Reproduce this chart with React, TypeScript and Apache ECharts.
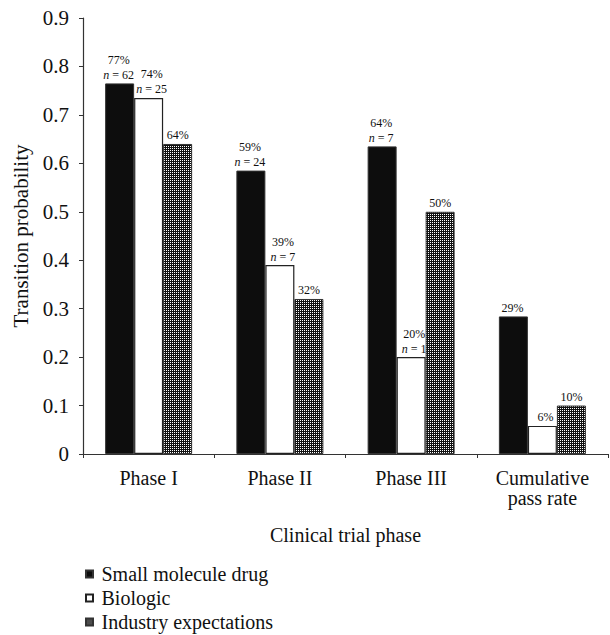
import React, { useEffect, useRef } from "react";
import * as echarts from "echarts";

const categories = ["Phase I", "Phase II", "Phase III", "Cumulative\npass rate"];
const seriesNames = ["Small molecule drug", "Biologic", "Industry expectations"];
const smallMolecule = [0.765, 0.585, 0.635, 0.284];
const biologic = [0.735, 0.39, 0.2, 0.058];
const industry = [0.64, 0.32, 0.5, 0.1];
const smallPct = ["77%", "59%", "64%", "29%"];
const bioPct = ["74%", "39%", "20%", "6%"];
const industryPct = ["64%", "32%", "50%", "10%"];
const smallN = [62, 24, 7, null];
const bioN = [25, 7, 1, null];
const yTicks = ["0", "0.1", "0.2", "0.3", "0.4", "0.5", "0.6", "0.7", "0.8", "0.9"];

const FONT = "Liberation Serif";

function makePattern() {
  const c = document.createElement("canvas");
  c.width = 2;
  c.height = 2;
  const ctx = c.getContext("2d")!;
  ctx.fillStyle = "#111";
  ctx.fillRect(0, 0, 2, 2);
  ctx.fillStyle = "#fff";
  ctx.fillRect(0, 0, 1, 1);
  return c;
}

function labelFmt(pcts: string[], ns: (number | null)[] | null) {
  return (p: any) => {
    const i = p.dataIndex;
    const n = ns ? ns[i] : null;
    if (n === null || n === undefined) return `{p|${pcts[i]}}`;
    return `{p|${pcts[i]}}\n{i|n}{p| = ${n}}`;
  };
}

const rich = {
  p: { fontSize: 12, lineHeight: 15, fontFamily: FONT, color: "#111" },
  i: { fontSize: 12, lineHeight: 15, fontFamily: FONT, fontStyle: "italic", color: "#111" },
};

export default function App() {
  const ref = useRef<HTMLDivElement>(null);
  useEffect(() => {
    if (!ref.current) return;
    const chart = echarts.init(ref.current, undefined, { renderer: "svg" });
    const pattern = { image: makePattern(), repeat: "repeat" } as any;
    const mkSeries = (name: string, data: number[], style: any, pcts: string[], ns: any, dx: number) => ({
      name,
      type: "bar",
      data,
      barWidth: 29,
      barGap: "0%",
      itemStyle: style,
      label: {
        show: true,
        position: "top",
        distance: 1,
        offset: [dx, 0],
        formatter: labelFmt(pcts, ns),
        rich,
        fontFamily: FONT,
        color: "#111",
      },
    });
    chart.setOption({
      animation: false,
      textStyle: { fontFamily: FONT, color: "#111" },
      grid: { left: 83, right: 2, top: 18, bottom: 181, containLabel: false },
      legend: {
        orient: "vertical",
        left: 85,
        top: 564,
        padding: 0,
        itemWidth: 14,
        itemHeight: 7,
        itemGap: 4,
        icon: "path://M0,0L10,0L10,10L0,10Z",
        textStyle: { fontSize: 20, fontFamily: FONT, color: "#111" },
        data: seriesNames,
      },
      xAxis: {
        type: "category",
        data: categories,
        name: "Clinical trial phase",
        nameLocation: "middle",
        nameGap: 71,
        nameTextStyle: { fontSize: 20, fontFamily: FONT, color: "#111" },
        axisLine: { lineStyle: { color: "#333", width: 1.2 } },
        axisTick: { show: true, length: 4, lineStyle: { color: "#333" } },
        axisLabel: { fontSize: 20, fontFamily: FONT, color: "#111", margin: 14, lineHeight: 20 },
      },
      yAxis: {
        type: "value",
        min: 0,
        max: 0.9,
        interval: 0.1,
        name: "Transition probability",
        nameLocation: "middle",
        nameGap: 49,
        nameTextStyle: { fontSize: 21, fontFamily: FONT, color: "#111" },
        axisLine: { show: true, lineStyle: { color: "#333", width: 1.2 } },
        axisTick: { show: true, length: 4, lineStyle: { color: "#333" } },
        splitLine: { show: false },
        axisLabel: {
          fontSize: 21,
          fontFamily: FONT,
          color: "#111",
          margin: 14,
          formatter: (v: number) => yTicks[Math.round(v * 10)],
        },
      },
      series: [
        mkSeries(seriesNames[0], smallMolecule, { color: "#0d0d0d", borderColor: "#333", borderWidth: 1 }, smallPct, smallN, -1),
        mkSeries(seriesNames[1], biologic, { color: "#ffffff", borderColor: "#222", borderWidth: 1.2 }, bioPct, bioN, 3),
        mkSeries(seriesNames[2], industry, { color: pattern, borderColor: "#333", borderWidth: 1 }, industryPct, null, 0),
      ],
    });
    return () => chart.dispose();
  }, []);
  return (
    <div
      ref={ref}
      style={{ position: "absolute", left: 0, top: 0, width: 610, height: 635, background: "#fff" }}
    />
  );
}
